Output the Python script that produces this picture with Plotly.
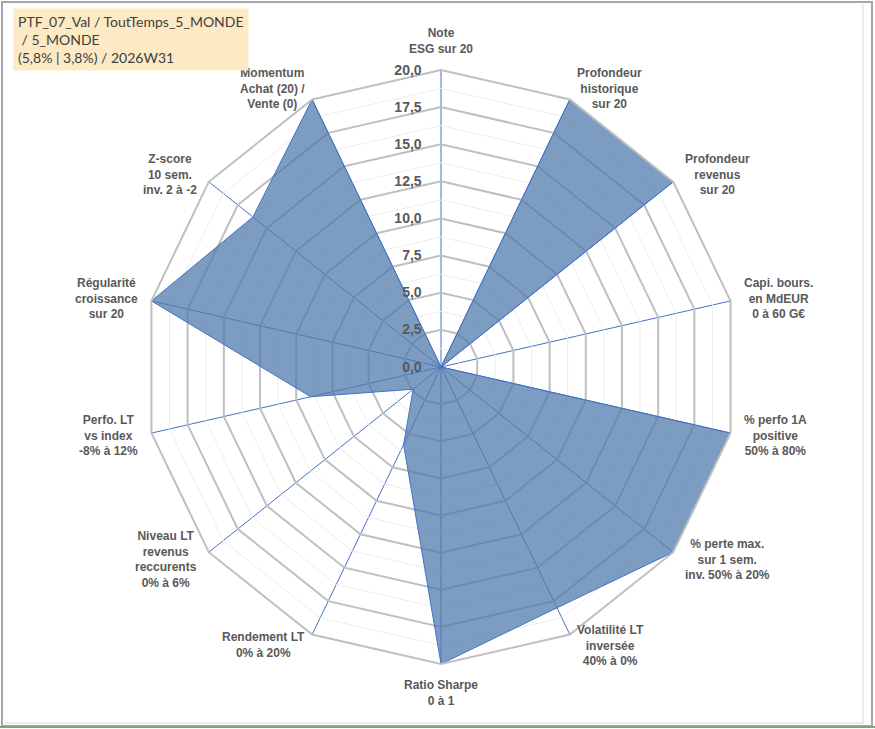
import math
import plotly.graph_objects as go

# radar axes, clockwise from the top
categories = [
    "Note<br>ESG sur 20",
    "Profondeur<br>historique<br>sur 20",
    "Profondeur<br>revenus<br>sur 20",
    "Capi. bours.<br>en MdEUR<br>0 à 60 G€",
    "% perfo 1A<br>positive<br>50% à 80%",
    "% perte max.<br>sur 1 sem.<br>inv. 50% à 20%",
    "Volatilité LT<br>inversée<br>40% à 0%",
    "Ratio Sharpe<br>0 à 1",
    "Rendement LT<br>0% à 20%",
    "Niveau LT<br>revenus<br>reccurents<br>0% à 6%",
    "Perfo. LT<br>vs index<br>-8% à 12%",
    "Régularité<br>croissance<br>sur 20",
    "Z-score<br>10 sem.<br>inv. 2 à -2",
    "Momentum<br>Achat (20) /<br>Vente (0)",
]
scores = [0, 20, 20, 0, 20, 20, 18.0, 20, 5.8, 2.4, 9.0, 20, 16.2, 20]
radial_ticks = [0, 2.5, 5, 7.5, 10, 12.5, 15, 17.5, 20]
minor_levels = [1.25, 3.75, 6.25, 8.75, 11.25, 13.75, 16.25, 18.75]

title_text = "PTF_07_Val / ToutTemps_5_MONDE<br> / 5_MONDE<br>(5,8% | 3,8%) / 2026W31"

W, H = 875, 729
cx, cy, rad = 441, 367, 297

fig = go.Figure()

# light minor gridlines between the major ones (Excel minor grid)
for lv in minor_levels:
    fig.add_trace(go.Scatterpolar(
        r=[lv] * (len(categories) + 1), theta=categories + [categories[0]],
        mode="lines", line=dict(color="#EDEDED", width=1),
        hoverinfo="skip", showlegend=False))

fig.add_trace(go.Scatterpolar(
    r=scores + [scores[0]], theta=categories + [categories[0]],
    mode="lines", fill="toself",
    fillcolor="rgba(80,121,173,0.74)",
    line=dict(color="#4472C4", width=1),
    showlegend=False, name="Score"))

fig.update_layout(
    width=W, height=H,
    margin=dict(l=0, r=0, t=0, b=0),
    paper_bgcolor="white",
    separators=", ",
    font=dict(family="Liberation Sans, Arial", color="#595959"),
    polar=dict(
        domain=dict(x=[(cx - rad) / W, (cx + rad) / W],
                    y=[1 - (cy + rad) / H, 1 - (cy - rad) / H]),
        bgcolor="white",
        gridshape="linear",
        angularaxis=dict(
            direction="clockwise", rotation=90,
            showline=True, linecolor="#BFBFBF", linewidth=2,
            gridcolor="#4472C4", gridwidth=1,
            ticks="", showticklabels=False,
        ),
        radialaxis=dict(
            range=[0, 20], angle=90, side="counterclockwise",
            tickvals=radial_ticks, tickformat=".1f",
            tickangle=90,
            showline=False,
            ticks="outside", ticklen=14, tickcolor="rgba(0,0,0,0)",
            gridcolor="#BFBFBF", gridwidth=2,
            tickfont=dict(size=14, color="#595959", weight="bold"),
        ),
    ),
)

# category labels placed just outside each vertex, Excel-like
n = len(categories)
for i, lab in enumerate(categories):
    a = 2 * math.pi * i / n
    dx, dy = math.sin(a), -math.cos(a)
    px_ = cx + (rad + 12) * dx
    py_ = cy + (rad + 12) * dy
    if abs(dx) < 0.1:
        xa = "center"
        ya = "bottom" if dy < 0 else "top"
    else:
        xa = "left" if dx > 0 else "right"
        ya = "middle"
    fig.add_annotation(
        xref="paper", yref="paper", x=px_ / W, y=1 - py_ / H,
        xanchor=xa, yanchor=ya, align="center", showarrow=False,
        text=lab, font=dict(size=12, color="#595959", weight="bold"))

# title box top-left
fig.add_annotation(
    xref="paper", yref="paper", x=13 / W, y=1 - 8 / H,
    xanchor="left", yanchor="top", align="left",
    text=title_text, showarrow=False,
    font=dict(family="Lato", size=14, color="#404040"),
    bgcolor="#FDE9C4", borderpad=4)

# chart frame
fig.add_shape(type="rect", xref="paper", yref="paper",
              x0=2 / W, x1=872 / W, y0=1 - 726 / H, y1=1 - 2 / H,
              line=dict(color="#A6A6A6", width=2))
fig.add_shape(type="line", xref="paper", yref="paper",
              x0=863 / W, x1=863 / W, y0=1 - 723 / H, y1=1 - 4 / H,
              line=dict(color="#D9D9D9", width=1))
fig.add_shape(type="line", xref="paper", yref="paper",
              x0=4 / W, x1=863 / W, y0=1 - 723 / H, y1=1 - 723 / H,
              line=dict(color="#D9D9D9", width=1))
fig.add_shape(type="line", xref="paper", yref="paper",
              x0=0, x1=1, y0=1 - 727 / H, y1=1 - 727 / H,
              line=dict(color="#7FA37F", width=2))

fig.write_html("out.html", config={"displayModeBar": False},
               post_script="document.body.style.margin='0';document.body.style.overflow='hidden';")
